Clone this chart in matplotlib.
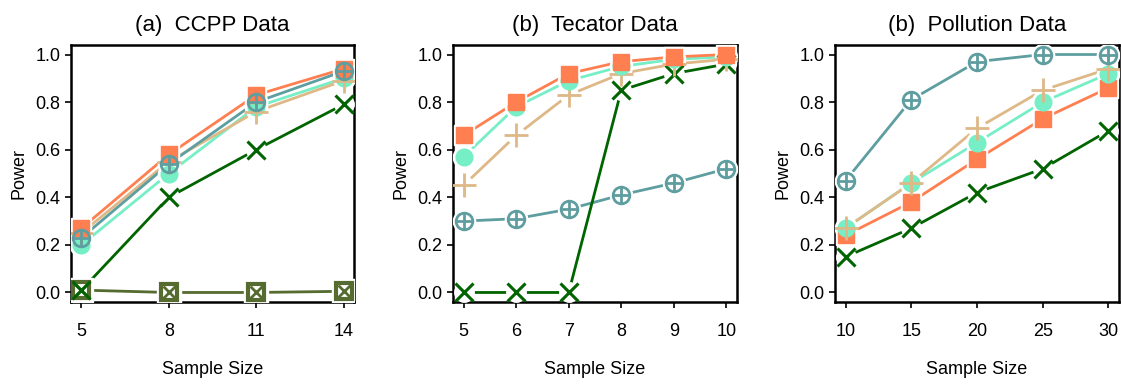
import numpy as np
import matplotlib.pyplot as plt

plt.rcParams['font.family'] = ['Liberation Sans', 'DejaVu Sans']

# panel (a) CCPP
x_ccpp = [5, 8, 11, 14]
ccpp_orange = [0.27, 0.58, 0.83, 0.94]
ccpp_aqua = [0.20, 0.50, 0.78, 0.90]
ccpp_tan = [0.25, 0.55, 0.76, 0.89]
ccpp_teal = [0.23, 0.54, 0.80, 0.93]
ccpp_green = [0.01, 0.40, 0.60, 0.79]
ccpp_olive = [0.01, 0.0, 0.0, 0.005]

# panel (b) Tecator
x_tec = [5, 6, 7, 8, 9, 10]
tec_orange = [0.66, 0.80, 0.92, 0.97, 0.99, 1.0]
tec_aqua = [0.57, 0.78, 0.89, 0.95, 0.98, 0.99]
tec_tan = [0.45, 0.66, 0.83, 0.92, 0.96, 0.98]
tec_teal = [0.30, 0.31, 0.35, 0.41, 0.46, 0.52]
tec_green = [0.0, 0.0, 0.0, 0.85, 0.92, 0.96]

# panel (c) Pollution
x_pol = [10, 15, 20, 25, 30]
pol_orange = [0.24, 0.38, 0.56, 0.73, 0.86]
pol_aqua = [0.27, 0.46, 0.63, 0.80, 0.92]
pol_tan = [0.27, 0.46, 0.69, 0.85, 0.94]
pol_teal = [0.47, 0.81, 0.97, 1.0, 1.0]
pol_green = [0.15, 0.27, 0.42, 0.52, 0.68]

titles = ['(a)  CCPP Data', '(b)  Tecator Data', '(b)  Pollution Data']

C_ORANGE = '#FF7F50'
C_AQUA = '#76EEC6'
C_TAN = '#DEB887'
C_TEAL = '#5F9EA0'
C_GREEN = '#006400'
C_OLIVE = '#556B2F'


def series(ax, x, y, kind, color):
    ax.plot(x, y, color=color, lw=2, zorder=2, solid_capstyle='butt')
    if kind == 'square':
        ax.plot(x, y, ls='none', marker='s', ms=15, color='white', zorder=3)
        ax.plot(x, y, ls='none', marker='s', ms=11, color=color, zorder=4)
    elif kind == 'circle':
        ax.plot(x, y, ls='none', marker='o', ms=16, color='white', zorder=3)
        ax.plot(x, y, ls='none', marker='o', ms=12, color=color, zorder=4)
    elif kind == 'plus':
        ax.plot(x, y, ls='none', marker='o', ms=13, color='white', zorder=3)
        ax.plot(x, y, ls='none', marker='+', ms=17, mew=2, color=color, zorder=4)
    elif kind == 'oplus':
        ax.plot(x, y, ls='none', marker='o', ms=16, color='white', zorder=3)
        ax.plot(x, y, ls='none', marker='o', ms=12, mfc='none', mec=color, mew=2, zorder=4)
        ax.plot(x, y, ls='none', marker='+', ms=12, mew=2, color=color, zorder=4)
    elif kind == 'x':
        ax.plot(x, y, ls='none', marker='o', ms=14, color='white', zorder=3)
        ax.plot(x, y, ls='none', marker='x', ms=13, mew=2.2, color=color, zorder=4)
    elif kind == 'sqx':
        ax.plot(x, y, ls='none', marker='s', ms=17, color='white', zorder=3)
        ax.plot(x, y, ls='none', marker='s', ms=12, mfc='none', mec=color, mew=3, zorder=4)
        ax.plot(x, y, ls='none', marker='x', ms=9, mew=2, color=color, zorder=4)


fig = plt.figure(figsize=(11.21, 3.87), dpi=100)
W, H = 1121, 387
boxes = [(71, 354), (453, 737), (835, 1119)]
axes = []
for (l, r) in boxes:
    ax = fig.add_axes([l / W, 1 - 302 / H, (r - l) / W, (302 - 45) / H])
    axes.append(ax)

ax = axes[0]
series(ax, x_ccpp, ccpp_olive, 'sqx', C_OLIVE)
series(ax, x_ccpp, ccpp_green, 'x', C_GREEN)
series(ax, x_ccpp, ccpp_aqua, 'circle', C_AQUA)
series(ax, x_ccpp, ccpp_tan, 'plus', C_TAN)
series(ax, x_ccpp, ccpp_orange, 'square', C_ORANGE)
series(ax, x_ccpp, ccpp_teal, 'oplus', C_TEAL)
ax.set_xticks(x_ccpp)

ax = axes[1]
series(ax, x_tec, tec_teal, 'oplus', C_TEAL)
series(ax, x_tec, tec_green, 'x', C_GREEN)
series(ax, x_tec, tec_tan, 'plus', C_TAN)
series(ax, x_tec, tec_aqua, 'circle', C_AQUA)
series(ax, x_tec, tec_orange, 'square', C_ORANGE)
ax.set_xticks(x_tec)

ax = axes[2]
series(ax, x_pol, pol_green, 'x', C_GREEN)
series(ax, x_pol, pol_orange, 'square', C_ORANGE)
series(ax, x_pol, pol_aqua, 'circle', C_AQUA)
series(ax, x_pol, pol_tan, 'plus', C_TAN)
series(ax, x_pol, pol_teal, 'oplus', C_TEAL)
ax.set_xticks(x_pol)

for ax, t, xs in zip(axes, titles, [x_ccpp, x_tec, x_pol]):
    span = xs[-1] - xs[0]
    ax.set_xlim(xs[0] - 0.04 * span, xs[-1] + 0.04 * span)
    ax.set_ylim(-0.04, 1.04)
    ax.set_yticks([0, 0.2, 0.4, 0.6, 0.8, 1.0])
    ax.set_yticklabels(['0.0', '0.2', '0.4', '0.6', '0.8', '1.0'])
    for s in ax.spines.values():
        s.set_linewidth(1.8)
    ax.tick_params(axis='both', labelsize=13, length=4, width=1.2, direction='out')
    ax.tick_params(axis='x', pad=11)
    ax.set_title(t, fontsize=16, pad=10)
    ax.set_xlabel('Sample Size', fontsize=13, labelpad=15)
    ax.set_ylabel('Power', fontsize=13, labelpad=6)

fig.savefig('out.png', dpi=100)
